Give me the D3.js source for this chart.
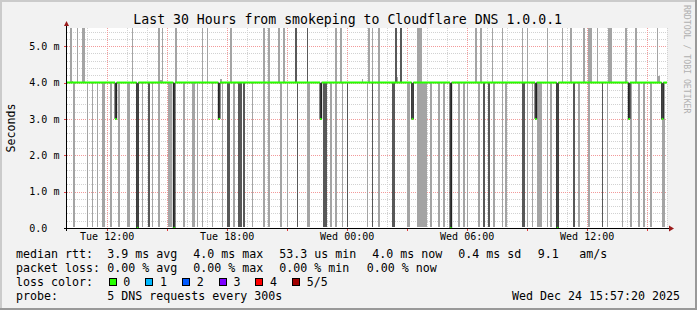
<!DOCTYPE html>
<html><head><meta charset="utf-8">
<script src="https://cdn.jsdelivr.net/npm/d3@7"></script>
<style>
html,body{margin:0;padding:0;background:#f2f2f2;}
svg{display:block;font-family:"DejaVu Sans Mono",monospace;}
</style></head><body>
<svg id="c" width="697" height="310"></svg>
<script>
// ---------------- data ----------------
const title = "Last 30 Hours from smokeping to Cloudflare DNS 1.0.0.1";
const yAxisTitle = "Seconds";
const watermark = "RRDTOOL / TOBI OETIKER";
const timeTickLabels = ["Tue 12:00","Tue 18:00","Wed 00:00","Wed 06:00","Wed 12:00"];
const valueTicks = [0,1,2,3,4,5];
const valueTickLabels = ["0.0","1.0 m","2.0 m","3.0 m","4.0 m","5.0 m"];
const medianBaseline = 4.0;      // ms
const fastestPing = 0.04;        // ms, bottom of the low smoke
// 5-minute slots whose slowest ping is off the top of the chart
const upSpikes = ["Tue 10:10","Tue 10:30","Tue 10:45","Tue 10:50","Tue 13:15","Tue 14:35","Tue 14:45","Tue 15:25","Tue 16:45","Tue 17:00","Tue 18:10","Tue 19:50","Tue 20:05","Tue 20:35","Tue 20:50","Tue 21:25","Tue 22:00","Tue 23:25","Tue 23:40","Wed 01:05","Wed 01:15","Wed 01:35","Wed 02:25","Wed 02:40","Wed 03:30","Wed 03:35","Wed 03:40","Wed 06:25","Wed 06:40","Wed 07:15","Wed 07:45","Wed 08:45","Wed 09:00","Wed 10:00","Wed 10:45","Wed 11:10","Wed 11:50","Wed 12:05","Wed 12:10","Wed 12:30","Wed 13:05","Wed 13:10","Wed 13:55","Wed 14:25","Wed 15:30"];
// slots where two pings are off the top (dark smoke above the median)
const darkUpSpikes = ["Tue 21:25","Tue 22:00","Wed 02:25","Wed 02:40"];
// slots whose slowest ping is just above the median [slot, ms]
const smallBumps = [["Tue 10:15",4.05],["Tue 14:40",4.06],["Tue 17:40",4.09],["Wed 00:45",4.1],["Wed 02:30",4.15],["Wed 15:35",4.17]];
// slots whose fastest ping is near zero (light smoke below the median)
const downSpikes = ["Tue 10:20","Tue 11:00","Tue 11:15","Tue 11:30","Tue 11:45","Tue 11:50","Tue 12:10","Tue 12:35","Tue 13:00","Tue 13:05","Tue 13:30","Tue 13:45","Tue 14:05","Tue 14:15","Tue 14:35","Tue 15:05","Tue 15:10","Tue 15:20","Tue 15:50","Tue 16:15","Tue 16:20","Tue 16:30","Tue 16:45","Tue 17:15","Tue 17:45","Tue 18:00","Tue 18:05","Tue 18:20","Tue 18:35","Tue 18:40","Tue 18:50","Tue 19:15","Tue 19:50","Tue 20:05","Tue 20:40","Tue 21:00","Tue 21:30","Tue 22:00","Tue 22:05","Tue 22:50","Tue 22:55","Tue 23:10","Tue 23:25","Tue 23:45","Wed 00:00","Wed 01:00","Wed 01:15","Wed 01:35","Wed 02:15","Wed 02:20","Wed 03:00","Wed 03:05","Wed 03:30","Wed 03:35","Wed 03:40","Wed 03:45","Wed 03:50","Wed 03:55","Wed 04:10","Wed 04:35","Wed 04:50","Wed 05:10","Wed 05:35","Wed 05:50","Wed 06:00","Wed 06:35","Wed 06:50","Wed 07:05","Wed 07:20","Wed 07:45","Wed 07:55","Wed 08:45","Wed 08:50","Wed 09:00","Wed 09:15","Wed 09:30","Wed 09:35","Wed 09:40","Wed 10:00","Wed 10:10","Wed 10:30","Wed 11:20","Wed 11:35","Wed 12:05","Wed 12:45","Wed 13:00","Wed 13:45","Wed 14:10","Wed 14:35","Wed 14:50","Wed 15:10","Wed 15:45","Wed 15:50"];
// slots where two pings are near zero (dark smoke below the median)
const darkDownSpikes = ["Tue 14:05","Tue 18:00","Tue 18:05","Tue 18:35","Tue 18:40","Tue 18:50","Tue 21:30","Tue 22:50","Tue 22:55","Wed 00:00","Wed 01:15","Wed 02:15","Wed 02:20","Wed 06:50","Wed 07:05","Wed 08:45","Wed 08:50","Wed 11:20","Wed 12:45"];
// slots where the median itself dropped [slot, ms]
const medianDrops = [["Tue 12:25",3.0],["Tue 13:30",0.0],["Tue 15:20",0.0],["Tue 17:35",3.0],["Tue 22:40",3.0],["Wed 03:15",3.0],["Wed 05:10",0.0],["Wed 09:25",3.0],["Wed 10:30",0.0],["Wed 14:05",3.0],["Wed 15:45",3.0]];
// legend
const rttLabel = "median rtt:";
const rttStats = ["3.9 ms avg","4.0 ms max","53.3 us min","4.0 ms now","0.4 ms sd","9.1","am/s"];
const lossLabel = "packet loss:";
const lossStats = ["0.00 % avg","0.00 % max","0.00 % min","0.00 % now"];
const lossColorLabel = "loss color:";
const lossColorNames = ["0","1","2","3","4","5/5"];
const lossColorValues = ["#26ff00","#00b8ff","#0059ff","#7e00ff","#ff0000","#a10000"];
const probeLabel = "probe:";
const probeText = "5 DNS requests every 300s";
const stamp = "Wed Dec 24 15:57:20 2025";

// ---------------- layout ----------------
const W = 697, H = 310;
const PL = 67, PR = 667, PT = 28, PB = 228;
const start = new Date(2025,11,23,10,1,0);
const end = new Date(2025,11,24,16,1,0);
const slotMs = 5*60*1000;
function parseT(s){
  const [d,hm] = s.split(" ");
  const [h,m] = hm.split(":").map(Number);
  return new Date(2025,11,d==="Tue"?23:24,h,m,0);
}
const x = d3.scaleTime().domain([start,end]).range([PL,PR]);
const y = d3.scaleLinear().domain([0,5.5]).range([PB,PT]);
const yTop = y.domain()[1];

const svg = d3.select("#c");
svg.append("rect").attr("width",W).attr("height",H).attr("fill","#f2f2f2");
svg.append("rect").attr("x",0).attr("y",0).attr("width",W).attr("height",2).attr("fill","#cbcbcb");
svg.append("rect").attr("x",0).attr("y",0).attr("width",2).attr("height",H).attr("fill","#cbcbcb");
svg.append("rect").attr("x",W-2).attr("y",0).attr("width",2).attr("height",H).attr("fill","#999");
svg.append("rect").attr("x",0).attr("y",H-2).attr("width",W).attr("height",2).attr("fill","#999");

// canvas
svg.append("rect").attr("x",PL).attr("y",PT).attr("width",PR-PL).attr("height",PB-PT).attr("fill","#fff");
svg.append("clipPath").attr("id","pc").append("rect").attr("x",PL).attr("y",PT).attr("width",PR-PL).attr("height",PB-PT);

// grid
const grid = svg.append("g").attr("shape-rendering","crispEdges");
const minorY = d3.range(0,5.5,0.2).filter(v=>Math.abs(v-Math.round(v))>1e-6);
grid.selectAll("line.hy").data(minorY).join("line")
  .attr("x1",PL).attr("x2",PR).attr("y1",d=>Math.round(y(d))+0.5).attr("y2",d=>Math.round(y(d))+0.5)
  .attr("stroke","#d2d2d2").attr("stroke-dasharray","1,1");
const hours = d3.timeHour.range(start,end);
grid.selectAll("line.vx").data(hours.filter(h=>h.getHours()%3!==0)).join("line")
  .attr("x1",d=>Math.round(x(d))+0.5).attr("x2",d=>Math.round(x(d))+0.5).attr("y1",PT).attr("y2",PB)
  .attr("stroke","#d2d2d2").attr("stroke-dasharray","1,1");
grid.selectAll("line.my").data(valueTicks.filter(v=>v>0)).join("line")
  .attr("x1",PL).attr("x2",PR).attr("y1",d=>Math.round(y(d))+0.5).attr("y2",d=>Math.round(y(d))+0.5)
  .attr("stroke","#f29a9a").attr("stroke-dasharray","1,1");
grid.selectAll("line.mx").data(hours.filter(h=>h.getHours()%3===0)).join("line")
  .attr("x1",d=>Math.round(x(d))+0.5).attr("x2",d=>Math.round(x(d))+0.5).attr("y1",PT).attr("y2",PB)
  .attr("stroke","#f29a9a").attr("stroke-dasharray","1,1");

// smoke
const plot = svg.append("g").attr("clip-path","url(#pc)").attr("shape-rendering","crispEdges");
const LIGHT = "#a4a4a4", DARK = "#585858";
function bars(cls, list, lo, hi, color){
  plot.selectAll("rect."+cls).data(list).join("rect").attr("class",cls)
    .attr("x",d=>x(d.t)).attr("width",d=>x(new Date(+d.t+slotMs))-x(d.t))
    .attr("y",d=>y(hi(d))).attr("height",d=>y(lo(d))-y(hi(d))).attr("fill",color);
}
const mk = s=>({t:parseT(s)});
bars("up", upSpikes.map(mk), d=>medianBaseline, d=>yTop, LIGHT);
bars("bump", smallBumps.map(([s,v])=>({t:parseT(s),v})), d=>medianBaseline, d=>d.v, LIGHT);
bars("down", downSpikes.map(mk), d=>fastestPing, d=>medianBaseline, LIGHT);
bars("dup", darkUpSpikes.map(mk), d=>medianBaseline, d=>yTop, DARK);
bars("ddown", darkDownSpikes.map(mk), d=>fastestPing, d=>medianBaseline, DARK);
bars("drop", medianDrops.map(([s,v])=>({t:parseT(s),v})), d=>Math.max(d.v,fastestPing), d=>medianBaseline, DARK);

// median line
const dropMap = new Map(medianDrops.map(([s,v])=>[+parseT(s),v]));
const slots = d3.timeMinute.every(5).range(new Date(2025,11,23,10,0,0), end)
  .map(t=>({t, m: dropMap.has(+t)?dropMap.get(+t):medianBaseline}));
const stepPts = slots.concat([{t:end, m:slots[slots.length-1].m}]);
const lineG = svg.append("g").attr("clip-path","url(#pc)");
lineG.append("path").attr("d", d3.line().x(d=>x(d.t)).y(d=>y(d.m)).curve(d3.curveStepAfter)(stepPts))
  .attr("fill","none").attr("stroke","#1a1a1a").attr("stroke-width",1);
// green runs
const runs = [];
slots.forEach(s=>{
  const last = runs[runs.length-1];
  if (last && last.m===s.m) last.t1 = new Date(+s.t+slotMs);
  else runs.push({m:s.m, t0:s.t, t1:new Date(+s.t+slotMs)});
});
lineG.selectAll("line.med").data(runs).join("line")
  .attr("x1",d=>x(d.t0)).attr("x2",d=>x(d.t1)).attr("y1",d=>y(d.m)).attr("y2",d=>y(d.m))
  .attr("stroke",lossColorValues[0]).attr("stroke-width",2);

// axes
const tickTimes = timeTickLabels.map(parseT);
const xAxis = d3.axisBottom(x).tickValues(tickTimes).tickFormat((d,i)=>timeTickLabels[i]).tickSize(0).tickPadding(6);
const gx = svg.append("g").attr("transform",`translate(0,${PB})`).call(xAxis);
gx.select(".domain").remove();
gx.selectAll("text").attr("font-family","DejaVu Sans Mono").attr("font-size",10).attr("fill","#000").attr("y",12).attr("dy",0);

const yAxis = d3.axisLeft(y).tickValues(valueTicks).tickFormat((d,i)=>valueTickLabels[i]).tickSize(0);
const gy = svg.append("g").attr("transform",`translate(${PL},0)`).call(yAxis);
gy.select(".domain").remove();
gy.selectAll("text").attr("font-family","DejaVu Sans Mono").attr("font-size",10).attr("fill","#000")
  .attr("text-anchor","start").attr("x",29.3-PL).attr("dy","0.33em");

// axis ticks
const tk = svg.append("g").attr("shape-rendering","crispEdges");
tk.selectAll("line.xt").data(hours.filter(h=>h.getHours()%3===0)).join("line")
  .attr("x1",d=>Math.round(x(d))+0.5).attr("x2",d=>Math.round(x(d))+0.5).attr("y1",PB).attr("y2",PB+3)
  .attr("stroke","#e04040");
tk.selectAll("line.yt").data(valueTicks).join("line")
  .attr("x1",PL-3).attr("x2",PL).attr("y1",d=>Math.round(y(d))+0.5).attr("y2",d=>Math.round(y(d))+0.5)
  .attr("stroke","#e04040");
tk.append("line").attr("x1",PL-3).attr("x2",PR+3).attr("y1",PB+0.5).attr("y2",PB+0.5).attr("stroke","#000");
tk.append("line").attr("x1",PL-0.5).attr("x2",PL-0.5).attr("y1",PB+3).attr("y2",PT-4).attr("stroke","#000");
svg.append("path").attr("d",`M${PL-3},${PT-2}L${PL-0.5},${PT-7}L${PL+2},${PT-2}Z`).attr("fill","#9b1c1c");
svg.append("path").attr("d",`M${PR+2},${PB-2.5}L${PR+7},${PB+0.5}L${PR+2},${PB+3.5}Z`).attr("fill","#9b1c1c");

// texts
svg.append("text").attr("x",(132.7+562.7)/2).attr("y",24).attr("text-anchor","middle")
  .attr("font-size",13.2).attr("fill","#000").text(title);
svg.append("text").attr("transform","translate(11,128) rotate(-90)").attr("text-anchor","middle")
  .attr("dominant-baseline","central").attr("font-size",11.6).attr("fill","#000").text(yAxisTitle);
svg.append("text").attr("transform","translate(687,5) rotate(90)").attr("text-anchor","start")
  .attr("dominant-baseline","central").attr("font-size",8.2).attr("fill","#b0b0b0").text(watermark);

const FS = 11.63;
const leg = svg.append("g").attr("font-size",FS).attr("fill","#000");
const rows = [258,272,286,300];
leg.append("text").attr("x",16).attr("y",rows[0]).text(rttLabel);
const rttX = [107.3,193.3,279.3,372.3,458.3,537.7,579.3];
leg.selectAll("text.r").data(rttStats).join("text").attr("class","r").attr("x",(d,i)=>rttX[i]).attr("y",rows[0]).text(d=>d);
leg.append("text").attr("x",16).attr("y",rows[1]).text(lossLabel);
const lossX = [107.3,193.3,279.3,366.7];
leg.selectAll("text.l").data(lossStats).join("text").attr("class","l").attr("x",(d,i)=>lossX[i]).attr("y",rows[1]).text(d=>d);
leg.append("text").attr("x",16).attr("y",rows[2]).text(lossColorLabel);
const boxG = leg.selectAll("g.b").data(lossColorNames).join("g").attr("class","b")
  .attr("transform",(d,i)=>`translate(${108.5+i*36.7},0)`);
boxG.append("rect").attr("x",0.5).attr("y",278.5).attr("width",7).attr("height",7)
  .attr("fill",(d,i)=>lossColorValues[i]).attr("stroke","#000").attr("shape-rendering","crispEdges");
boxG.append("text").attr("x",14.8).attr("y",rows[2]).text(d=>d);
leg.append("text").attr("x",16).attr("y",rows[3]).text(probeLabel);
leg.append("text").attr("x",107.3).attr("y",rows[3]).text(probeText);
leg.append("text").attr("x",680).attr("y",rows[3]).attr("text-anchor","end").text(stamp);
</script></body></html>
